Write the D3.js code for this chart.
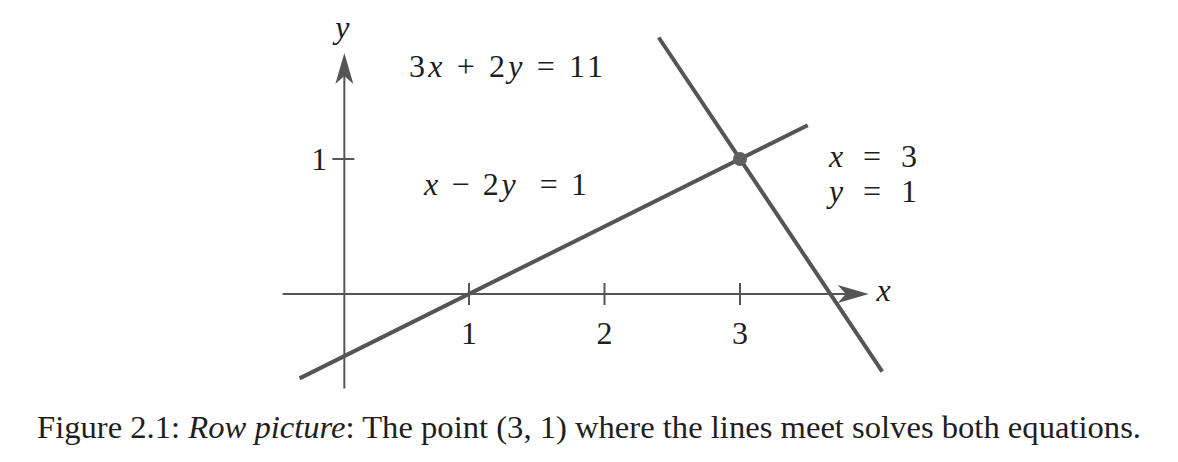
<!DOCTYPE html>
<html>
<head>
<meta charset="utf-8">
<script src="https://cdn.jsdelivr.net/npm/d3@7"></script>
<style>
  html, body { margin: 0; padding: 0; background: #ffffff; }
  svg { display: block; }
</style>
</head>
<body>
<svg id="chart" width="1178" height="462"></svg>
<script>
// ---- data (in equation units) ----
const xTicks = [1, 2, 3];
const xTickLabels = ["1", "2", "3"];
const yTicks = [1];
const yTickLabels = ["1"];
const line1 = [[-0.25, -0.625], [3.5, 1.25]];   // x - 2y = 1
const line2 = [[2.40, 1.90], [4.05, -0.575]];   // 3x + 2y = 11
const solution = [[3, 1]];
const xAxisExtent = [-0.375, 3.95];
const yAxisExtent = [-0.70, 1.785];
const yAxisAtX = 0.08;

const svg = d3.select("#chart");
const x = d3.scaleLinear().domain([1, 3]).range([469, 740]);
const y = d3.scaleLinear().domain([0, 1]).range([294, 159]);

const ink = "#555555";
const textCol = "#1e1e1e";
const serif = "Liberation Serif, DejaVu Serif, serif";

// axes
svg.append("line")
  .attr("x1", x(xAxisExtent[0])).attr("x2", x(xAxisExtent[1]) - 20)
  .attr("y1", y(0)).attr("y2", y(0))
  .attr("stroke", ink).attr("stroke-width", 2);
svg.append("line")
  .attr("x1", x(yAxisAtX)).attr("x2", x(yAxisAtX))
  .attr("y1", y(yAxisExtent[0])).attr("y2", y(yAxisExtent[1]) + 20)
  .attr("stroke", ink).attr("stroke-width", 2);

const arrow = "M0,0 L-31,-9 L-23,0 L-31,9 Z";
svg.append("path").attr("d", arrow)
  .attr("transform", `translate(${x(xAxisExtent[1])},${y(0)})`)
  .attr("fill", ink);
svg.append("path").attr("d", arrow)
  .attr("transform", `translate(${x(yAxisAtX)},${y(yAxisExtent[1])}) rotate(-90)`)
  .attr("fill", ink);

// ticks
svg.selectAll(".xt").data(xTicks).enter().append("line")
  .attr("x1", d => x(d)).attr("x2", d => x(d))
  .attr("y1", y(0) - 11).attr("y2", y(0) + 11)
  .attr("stroke", ink).attr("stroke-width", 2);
svg.selectAll(".xtl").data(xTicks).enter().append("text")
  .attr("x", d => x(d)).attr("y", y(0) + 50)
  .attr("text-anchor", "middle")
  .attr("font-family", serif).attr("font-size", 32).attr("fill", textCol)
  .text((d, i) => xTickLabels[i]);

svg.selectAll(".yt").data(yTicks).enter().append("line")
  .attr("x1", x(yAxisAtX) - 12).attr("x2", x(yAxisAtX) + 10)
  .attr("y1", d => y(d)).attr("y2", d => y(d))
  .attr("stroke", ink).attr("stroke-width", 2);
svg.selectAll(".ytl").data(yTicks).enter().append("text")
  .attr("x", x(yAxisAtX) - 25).attr("y", d => y(d) + 11)
  .attr("text-anchor", "middle")
  .attr("font-family", serif).attr("font-size", 32).attr("fill", textCol)
  .text((d, i) => yTickLabels[i]);

// axis labels
svg.append("text")
  .attr("x", x(yAxisAtX) - 2).attr("y", 38)
  .attr("text-anchor", "middle")
  .attr("font-family", serif).attr("font-style", "italic")
  .attr("font-size", 32).attr("fill", textCol).text("y");
svg.append("text")
  .attr("x", x(xAxisExtent[1]) + 15).attr("y", y(0) + 7)
  .attr("text-anchor", "middle")
  .attr("font-family", serif).attr("font-style", "italic")
  .attr("font-size", 32).attr("fill", textCol).text("x");

// lines
const lineGen = d3.line().x(d => x(d[0])).y(d => y(d[1]));
[line1, line2].forEach(pts => {
  svg.append("path").datum(pts).attr("d", lineGen)
    .attr("fill", "none").attr("stroke", ink).attr("stroke-width", 4);
});

svg.selectAll(".pt").data(solution).enter().append("circle")
  .attr("cx", d => x(d[0])).attr("cy", d => y(d[1]))
  .attr("r", 7).attr("fill", "#606060");

// math labels
function mathLabel(px, py, parts, width) {
  const t = svg.append("text").attr("x", px).attr("y", py)
    .attr("font-family", serif).attr("font-size", 32).attr("fill", textCol)
    .attr("xml:space", "preserve");
  parts.forEach(p => {
    t.append("tspan").attr("font-style", p[1] ? "italic" : "normal").text(p[0]);
  });
  if (width) t.attr("textLength", width).attr("lengthAdjust", "spacing");
  return t;
}
mathLabel(409, 77, [["3", 0], ["x", 1], [" + 2", 0], ["y", 1], [" = 11", 0]], 194);
mathLabel(424, 195, [["x", 1], [" − 2", 0], ["y", 1], ["  = 1", 0]], 163);
mathLabel(829, 167, [["x", 1], [" = 3", 0]], 88);
mathLabel(829, 202, [["y", 1], [" = 1", 0]], 88);

// caption
const cap = svg.append("text").attr("x", 37).attr("y", 438)
  .attr("font-family", serif).attr("font-size", 31).attr("fill", textCol)
  .attr("textLength", 1104).attr("lengthAdjust", "spacingAndGlyphs");
cap.append("tspan").text("Figure 2.1: ");
cap.append("tspan").attr("font-style", "italic").text("Row picture");
cap.append("tspan").text(": The point (3, 1) where the lines meet solves both equations.");
</script>
</body>
</html>
